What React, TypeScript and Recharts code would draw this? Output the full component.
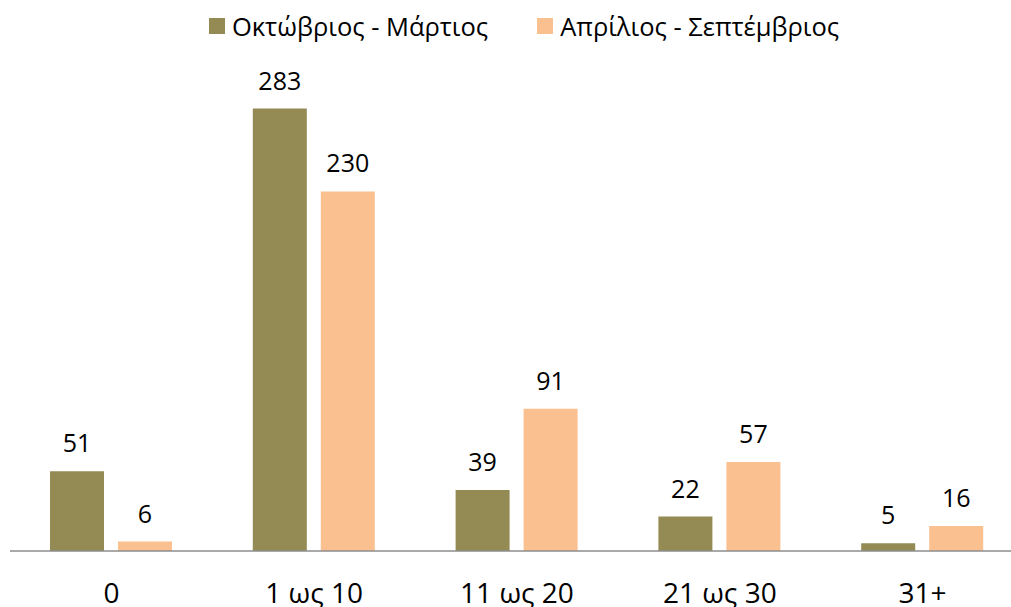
import { BarChart, Bar, XAxis, YAxis, Legend, LabelList } from 'recharts'

const CATEGORIES = ['0', '1 ως 10', '11 ως 20', '21 ως 30', '31+']
const OCT_MAR = [51, 283, 39, 22, 5]
const APR_SEP = [6, 230, 91, 57, 16]
const SERIES_NAMES = ['Οκτώβριος - Μάρτιος', 'Απρίλιος - Σεπτέμβριος']

const OLIVE = '#948a54'
const PEACH = '#fac090'
const AXIS_GREY = '#8c8c8c'
const FONT = '"Open Sans", "Noto Sans", sans-serif'

const data = CATEGORIES.map((name, i) => ({
  name,
  octMar: OCT_MAR[i],
  aprSep: APR_SEP[i],
}))

function renderLegend() {
  const items = [
    { label: SERIES_NAMES[0], color: OLIVE },
    { label: SERIES_NAMES[1], color: PEACH },
  ]
  return (
    <div style={{ height: 74 }}>
      <div
        style={{
          height: 36,
          display: 'flex',
          alignItems: 'center',
          justifyContent: 'center',
          gap: 49,
          fontSize: 25.5,
          color: '#000',
          fontFamily: FONT,
          paddingLeft: 14,
        }}
      >
        {items.map(it => (
          <div key={it.label} style={{ display: 'flex', alignItems: 'center' }}>
            <span
              style={{
                display: 'inline-block',
                width: 16,
                height: 16,
                background: it.color,
                marginRight: 7,
              }}
            />
            <span>{it.label}</span>
          </div>
        ))}
      </div>
    </div>
  )
}

export default function App() {
  return (
    <div
      style={{
        position: 'absolute',
        left: 0,
        top: 0,
        width: 1011,
        height: 607,
        overflow: 'hidden',
        background: '#fff',
        fontFamily: FONT,
      }}
    >
      <BarChart
        width={1030}
        height={607}
        data={data}
        margin={{ top: 8, right: 6, bottom: 0, left: 10 }}
        barSize={54}
        barGap={14}
      >
        <Legend verticalAlign="top" content={renderLegend} />
        <XAxis
          dataKey="name"
          height={56}
          tickSize={0}
          tickMargin={32}
          tickLine={false}
          axisLine={{ stroke: AXIS_GREY, strokeWidth: 1.5 }}
          tick={{ fontSize: 28, fill: '#000', fontFamily: FONT }}
        />
        <YAxis hide domain={[0, 300]} />
        <Bar dataKey="octMar" name={SERIES_NAMES[0]} fill={OLIVE} isAnimationActive={false}>
          <LabelList
            dataKey="octMar"
            position="top"
            offset={19}
            style={{ fontSize: 25, fill: '#000', fontFamily: FONT }}
          />
        </Bar>
        <Bar dataKey="aprSep" name={SERIES_NAMES[1]} fill={PEACH} isAnimationActive={false}>
          <LabelList
            dataKey="aprSep"
            position="top"
            offset={19}
            style={{ fontSize: 25, fill: '#000', fontFamily: FONT }}
          />
        </Bar>
      </BarChart>
    </div>
  )
}
